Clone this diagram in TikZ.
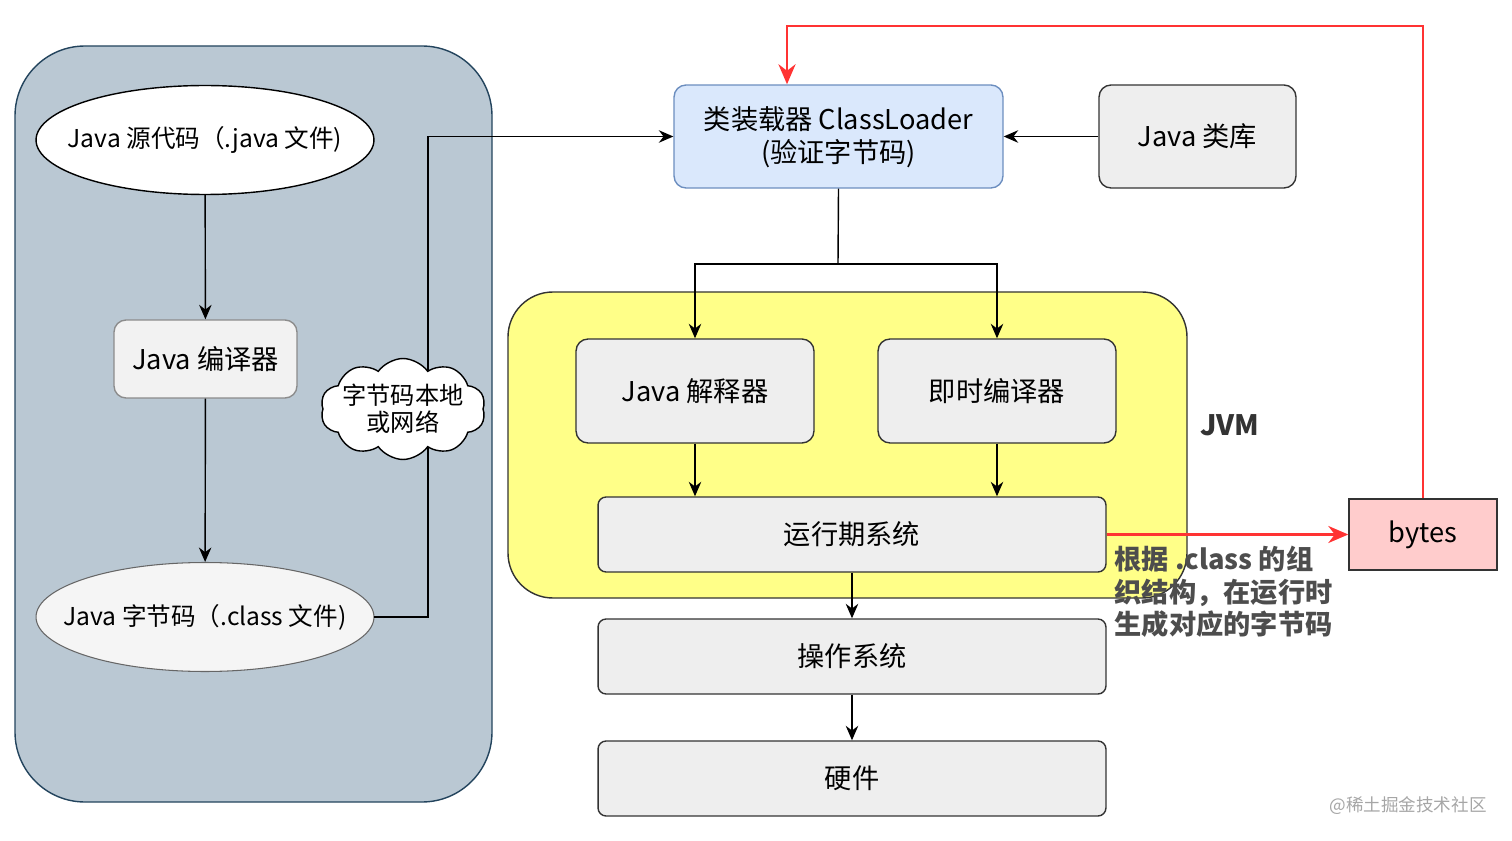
\documentclass[tikz,border=0pt]{standalone}
\usepackage{fontspec}
\setmainfont{Noto Sans CJK SC}
\usetikzlibrary{shapes.geometric,shapes.symbols,arrows.meta}

\definecolor{panel}{HTML}{BAC8D3}
\definecolor{panelline}{HTML}{23445D}
\definecolor{boxfill}{HTML}{EEEEEE}
\definecolor{loaderfill}{HTML}{DAE8FC}
\definecolor{loaderline}{HTML}{6C8EBF}
\definecolor{jvmfill}{HTML}{FFFF88}
\definecolor{bytesfill}{HTML}{FFCCCC}
\definecolor{redline}{HTML}{FF3333}
\definecolor{notetext}{HTML}{4D4D4D}

\begin{document}
\begin{tikzpicture}[x=0.02cm,y=-0.02cm,>={Stealth[length=2.9mm,width=2.5mm]},line width=0.8pt,
	main node/.style={draw=black!80,fill=boxfill,rounded corners=0.24cm,align=center,inner sep=0pt,font=\fontsize{15.5}{19}\selectfont},
	oval node/.style={ellipse,draw,inner sep=0pt,minimum width=6.76cm,minimum height=2.18cm,font=\fontsize{14}{16}\selectfont},
	red edge/.style={draw=redline,line width=1.6pt,-{Stealth[length=4mm,width=3.4mm]}}]
	
	\useasboundingbox (0,0) rectangle (1512,841);
	
	% frames
	\draw[panelline,fill=panel,rounded corners=1.4cm] (15,46) rectangle (492,802);
	\draw[black!80,fill=jvmfill,rounded corners=0.9cm] (508,292) rectangle (1187,598);
	
	% left column
	\node[oval node, fill=white] (src) at (205,140) {\makebox[0pt]{Java 源代码（.java 文件)}};
	\node[main node, draw=black!45, fill=black!5, minimum width=3.66cm, minimum height=1.56cm] (comp) at (205.5,359) {Java 编译器};
	\node[oval node, draw=black!60, line width=0.6pt, fill=black!4] (cls) at (205,617) {\makebox[0pt]{Java 字节码（.class 文件)}};
	
	% right column
	\node[main node, draw=loaderline, fill=loaderfill, minimum width=6.58cm, minimum height=2.06cm] (loader) at (838.5,136.5) {\rule{0pt}{14pt}类装载器 ClassLoader\\(验证字节码)};
	\node[main node, minimum width=3.94cm, minimum height=2.06cm] (lib) at (1197.5,136.5) {Java 类库};
	\node[main node, minimum width=4.76cm, minimum height=2.08cm] (interp) at (695,391) {Java 解释器};
	\node[main node, minimum width=4.76cm, minimum height=2.08cm] (jit) at (997,391) {即时编译器};
	\node[main node, rounded corners=0.16cm, minimum width=10.16cm, minimum height=1.5cm] (runtime) at (852,534.5) {运行期系统};
	\node[main node, rounded corners=0.16cm, minimum width=10.16cm, minimum height=1.5cm] (os) at (852,656.5) {操作系统};
	\node[main node, rounded corners=0.16cm, minimum width=10.16cm, minimum height=1.5cm] (hw) at (852,778.5) {硬件};
	\node[main node, rounded corners=0pt, fill=bytesfill, minimum width=2.96cm, minimum height=1.42cm] (bytes) at (1423,534.5) {bytes};
	\node[font=\fontsize{16}{19}\selectfont\bfseries, text=black!80] (jvm) at (1230,425) {JVM};
	
	\coordinate (bend) at (428,400);
	\coordinate (split) at (838,264);
	\coordinate (top) at (1000,26);
	
	\path[->]
	(src) edge (comp)
	(comp) edge (cls)
	(lib) edge (loader)
	(runtime) edge (os)
	(os) edge (hw);
	
	\draw[->] (cls.east) -| (bend) |- (loader.west);
	\draw (loader.south) -- (split);
	\draw[->] (split) -| (interp.north);
	\draw[->] (split) -| (jit.north);
	\draw[->] (interp.south) -- (interp.south |- runtime.north);
	\draw[->] (jit.south) -- (jit.south |- runtime.north);
	
	% cloud over the line
	\node[cloud, cloud puffs=10, cloud puff arc=110, aspect=1.6, draw, fill=white, inner sep=0pt, minimum width=3.3cm, minimum height=2.02cm,
	label={[align=center, font=\fontsize{13.8}{15.5}\selectfont]center:字节码本地\\或网络}] (net) at (403,409) {};
	
	% red path
	\path[red edge] (runtime.east) -- (bytes.west);
	\path[red edge] (bytes.north) |- (top) -| ([xshift=-1.03cm]loader.north);
	
	\node[anchor=north west, align=left, inner sep=0pt, text=notetext, font=\fontsize{15.5}{18.7}\selectfont\bfseries] (note) at (1114,545) {根据 .class 的组\\织结构，在运行时\\生成对应的字节码};
	\node[text=black!35, font=\fontsize{10}{12}\selectfont] (mark) at (1408,806) {@稀土掘金技术社区};
	
\end{tikzpicture}
\end{document}
